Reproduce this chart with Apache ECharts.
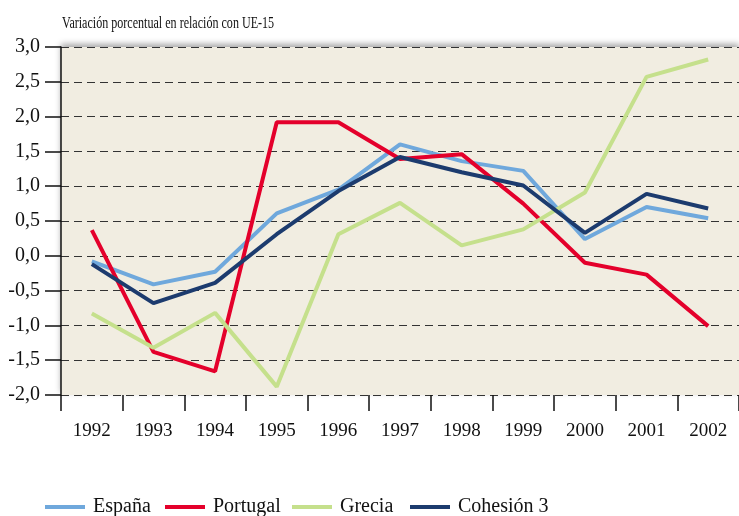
<!DOCTYPE html>
<html>
<head>
<meta charset="utf-8">
<script src="https://cdn.jsdelivr.net/npm/echarts@6/dist/echarts.min.js"></script>
<style>
  html, body { margin: 0; padding: 0; background: #fff; }
  #chart { width: 739px; height: 516px; }
</style>
</head>
<body>
<div id="chart"></div>
<script>
// años
const years = ['1992', '1993', '1994', '1995', '1996', '1997', '1998', '1999', '2000', '2001', '2002']

// variación porcentual respecto a UE-15
const espana   = [-0.08, -0.41, -0.23, 0.61, 0.95, 1.60, 1.36, 1.22, 0.24, 0.70, 0.54]
const portugal = [0.37, -1.38, -1.66, 1.92, 1.92, 1.39, 1.46, 0.75, -0.10, -0.27, -1.01]
const grecia   = [-0.83, -1.32, -0.82, -1.88, 0.31, 0.76, 0.15, 0.38, 0.91, 2.57, 2.82]
const cohesion = [-0.12, -0.68, -0.39, 0.31, 0.93, 1.42, 1.20, 1.01, 0.33, 0.89, 0.68]

const names  = ['España', 'Portugal', 'Grecia', 'Cohesión 3']
const colors = ['#6fa8dc', '#e4002b', '#c5e08c', '#1c3b6e']
const values = [espana, portugal, grecia, cohesion]

const FONT = '"Liberation Serif", "DejaVu Serif", serif'
const legendLeft = [45, 165, 292, 410]

const chart = echarts.init(document.getElementById('chart'))

chart.setOption({
  animation: false,
  // título estrecho (condensado) como en el original
  graphic: [{
    type: 'text',
    left: 62,
    top: 15,
    scaleX: 0.71,
    style: {
      text: 'Variación porcentual en relación con UE-15',
      font: '17px ' + FONT,
      fill: '#111'
    }
  }],
  legend: names.map((n, i) => ({
    data: [n],
    left: legendLeft[i],
    top: 497,
    padding: 0,
    icon: 'rect',
    itemWidth: 40,
    itemHeight: 4,
    textStyle: { fontFamily: FONT, fontSize: 20, color: '#111', padding: [0, 0, 0, 3] }
  })),
  grid: {
    left: 61,
    right: -2,
    top: 47,
    bottom: 121,
    show: true,
    backgroundColor: '#f1ede1',
    borderWidth: 0,
    shadowColor: 'rgba(0,0,0,0.35)',
    shadowBlur: 6,
    shadowOffsetY: -3
  },
  xAxis: {
    type: 'category',
    data: years,
    boundaryGap: true,
    axisLine: { show: false, onZero: false },
    axisTick: { show: true, length: 16, lineStyle: { color: '#111', width: 1.5 } },
    axisLabel: { margin: 27, fontFamily: FONT, fontSize: 19, color: '#111' },
    splitLine: { show: false }
  },
  yAxis: {
    type: 'value',
    min: -2,
    max: 3,
    interval: 0.5,
    axisLine: { show: true, lineStyle: { color: '#111', width: 1.5 } },
    axisTick: { show: true, length: 16, lineStyle: { color: '#111', width: 1.5 } },
    axisLabel: {
      margin: 21,
      fontFamily: FONT,
      fontSize: 20,
      color: '#111',
      formatter: v => v.toFixed(1).replace('.', ',')
    },
    splitLine: { show: true, lineStyle: { color: '#333', width: 1.2, type: [8, 5] } }
  },
  series: names.map((n, i) => ({
    name: n,
    type: 'line',
    data: values[i],
    symbol: 'none',
    color: colors[i],
    lineStyle: { width: 4, color: colors[i] }
  }))
})
</script>
</body>
</html>
